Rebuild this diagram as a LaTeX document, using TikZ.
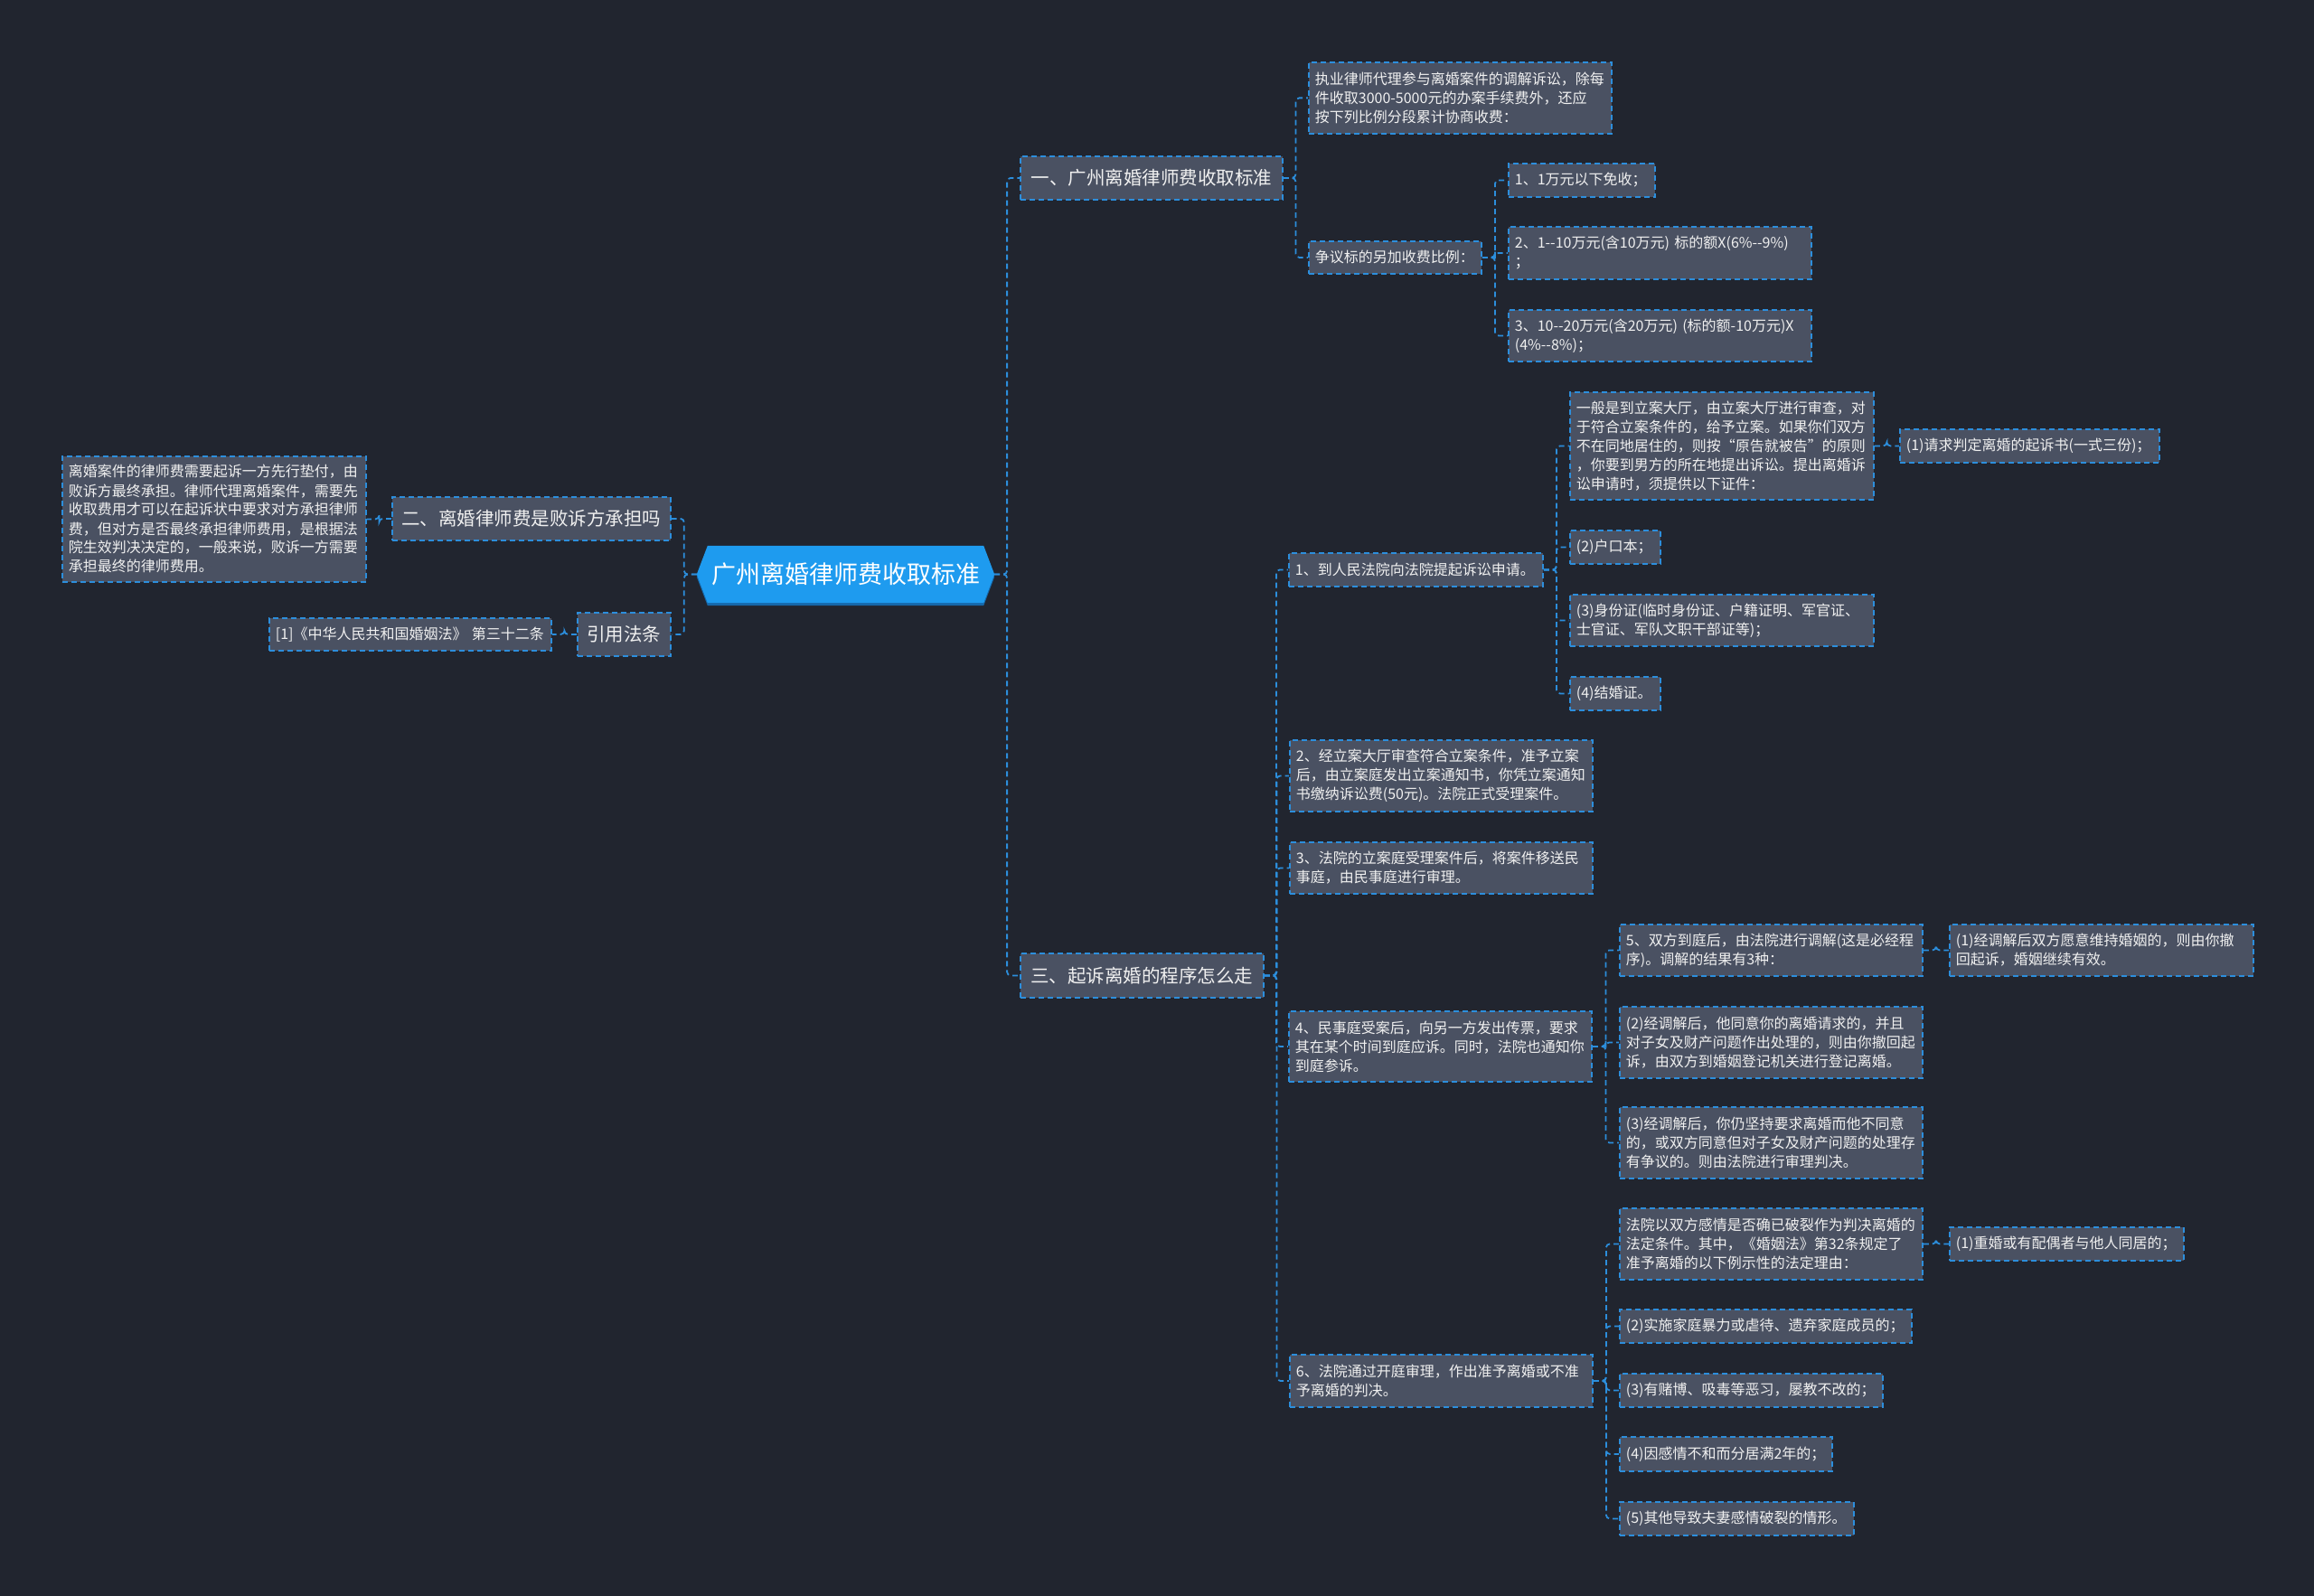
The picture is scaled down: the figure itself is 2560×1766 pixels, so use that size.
\documentclass[tikz,border=0pt]{standalone}
\usepackage{fontspec}
\setmainfont{Noto Sans CJK SC}
\usetikzlibrary{calc}
\pgfdeclarelayer{background}
\pgfsetlayers{background,main}
\definecolor{bg}{HTML}{21252F}
\definecolor{nf}{HTML}{4A5162}
\definecolor{bd}{HTML}{2C8EDC}
\definecolor{tx}{HTML}{F0F0F0}
\definecolor{rootfill}{HTML}{1E9BEF}
\definecolor{rootshadow}{HTML}{1668AA}
\exhyphenpenalty=10000
\hyphenpenalty=10000
\tikzset{
  dashline/.style={dash pattern=on 6pt off 4pt, line width=1.8pt},
  leaf/.style={draw=bd, fill=nf, dashline, text=tx, anchor=north west,
    font=\fontsize{16}{21}\selectfont, inner xsep=7pt, inner ysep=0pt, align=left},
  branch/.style={draw=bd, fill=nf, dashline, text=tx, anchor=north west,
    font=\fontsize{20.5}{24}\selectfont, inner sep=0pt},
  rootnode/.style={text=white, font=\fontsize{27}{30}\selectfont, inner sep=0pt,
    minimum width=329pt, minimum height=63pt},
  conn/.style={draw=bd, dashline, rounded corners=4pt},
}
\begin{document}
\begin{tikzpicture}[x=1pt,y=1pt]
\begin{pgfonlayer}{background}
\fill[bg] (0,0) rectangle (2560,-1766);
\end{pgfonlayer}
\useasboundingbox (0,0) rectangle (2560,-1766);

% root
\node[rootnode] (root) at (935.5,-635.5) {广州离婚律师费收取标准};
\begin{pgfonlayer}{background}
\fill[rootshadow] ([yshift=-3pt]root.west) -- ([xshift=12pt,yshift=-3pt]root.north west) -- ([xshift=-12pt,yshift=-3pt]root.north east) -- ([yshift=-3pt]root.east) -- ([xshift=-12pt,yshift=-3pt]root.south east) -- ([xshift=12pt,yshift=-3pt]root.south west) -- cycle;
\fill[rootfill] (root.west) -- ([xshift=12pt]root.north west) -- ([xshift=-12pt]root.north east) -- (root.east) -- ([xshift=-12pt]root.south east) -- ([xshift=12pt]root.south west) -- cycle;
\end{pgfonlayer}

% branches
\node[branch, minimum width=290pt, minimum height=48pt] (b1) at (1128,-172) {一、广州离婚律师费收取标准};
\node[branch, minimum width=308pt, minimum height=48pt] (b2) at (433,-549) {二、离婚律师费是败诉方承担吗};
\node[branch, minimum width=103pt, minimum height=48pt] (b4) at (638,-677) {引用法条};
\node[branch, minimum width=269pt, minimum height=49pt] (b3) at (1128,-1054) {三、起诉离婚的程序怎么走};

% branch 1 children
\node[leaf, text width=321pt, minimum height=79pt] (a) at (1447,-68) {执业律师代理参与离婚案件的调解诉讼，除每\\件收取3000-5000元的办案手续费外，还应\\按下列比例分段累计协商收费：};
\node[leaf, text width=177pt, minimum height=36pt] (bb) at (1447,-266) {争议标的另加收费比例：};
\node[leaf, text width=148pt, minimum height=37pt] (g1) at (1668,-180) {1、1万元以下免收；};
\node[leaf, text width=321pt, minimum height=58pt] (g2) at (1668,-250) {2、1-{}-10万元(含10万元)~标的额X(6\%-{}-9\%)\\；};
\node[leaf, text width=321pt, minimum height=57pt] (g3) at (1668,-342) {3、10-{}-20万元(含20万元)~(标的额-10万元)X\\(4\%-{}-8\%)；};

% left side
\node[leaf, text width=322pt, minimum height=139pt] (l1) at (68,-504) {离婚案件的律师费需要起诉一方先行垫付，由\\败诉方最终承担。律师代理离婚案件，需要先\\收取费用才可以在起诉状中要求对方承担律师\\费，但对方是否最终承担律师费用，是根据法\\院生效判决决定的，一般来说，败诉一方需要\\承担最终的律师费用。};
\node[leaf, text width=298pt, minimum height=36pt] (l2) at (297,-683) {[1]《中华人民共和国婚姻法》~第三十二条};

% branch 3 children
\node[leaf, text width=267pt, minimum height=37pt] (c1) at (1425,-611) {1、到人民法院向法院提起诉讼申请。};
\node[leaf, text width=322pt, minimum height=119pt] (c1a) at (1736,-433) {一般是到立案大厅，由立案大厅进行审查，对\\于符合立案条件的，给予立案。如果你们双方\\不在同地居住的，则按“原告就被告”的原则\\，你要到男方的所在地提出诉讼。提出离婚诉\\讼申请时，须提供以下证件：};
\node[leaf, text width=273pt, minimum height=37pt] (c1a1) at (2101,-474) {(1)请求判定离婚的起诉书(一式三份)；};
\node[leaf, text width=86pt, minimum height=37pt] (c1b) at (1736,-586) {(2)户口本；};
\node[leaf, text width=322pt, minimum height=57pt] (c1c) at (1736,-657) {(3)身份证(临时身份证、户籍证明、军官证、\\士官证、军队文职干部证等)；};
\node[leaf, text width=86pt, minimum height=37pt] (c1d) at (1736,-748) {(4)结婚证。};

\node[leaf, text width=321pt, minimum height=79pt] (c2) at (1426,-818) {2、经立案大厅审查符合立案条件，准予立案\\后，由立案庭发出立案通知书，你凭立案通知\\书缴纳诉讼费(50元)。法院正式受理案件。};
\node[leaf, text width=321pt, minimum height=57pt] (c3) at (1426,-931) {3、法院的立案庭受理案件后，将案件移送民\\事庭，由民事庭进行审理。};

\node[leaf, text width=321pt, minimum height=78pt] (c4) at (1425,-1118) {4、民事庭受案后，向另一方发出传票，要求\\其在某个时间到庭应诉。同时，法院也通知你\\到庭参诉。};
\node[leaf, text width=321pt, minimum height=57pt] (c4a) at (1791,-1022) {5、双方到庭后，由法院进行调解(这是必经程\\序)。调解的结果有3种：};
\node[leaf, text width=322pt, minimum height=57pt] (c4a1) at (2156,-1022) {(1)经调解后双方愿意维持婚姻的，则由你撤\\回起诉，婚姻继续有效。};
\node[leaf, text width=321pt, minimum height=79pt] (c4b) at (1791,-1113) {(2)经调解后，他同意你的离婚请求的，并且\\对子女及财产问题作出处理的，则由你撤回起\\诉，由双方到婚姻登记机关进行登记离婚。};
\node[leaf, text width=321pt, minimum height=79pt] (c4c) at (1791,-1224) {(3)经调解后，你仍坚持要求离婚而他不同意\\的，或双方同意但对子女及财产问题的处理存\\有争议的。则由法院进行审理判决。};

\node[leaf, text width=321pt, minimum height=58pt] (c6) at (1426,-1498) {6、法院通过开庭审理，作出准予离婚或不准\\予离婚的判决。};
\node[leaf, text width=321pt, minimum height=79pt] (c6a) at (1791,-1336) {法院以双方感情是否确已破裂作为判决离婚的\\法定条件。其中，《婚姻法》第32条规定了\\准予离婚的以下例示性的法定理由：};
\node[leaf, text width=245pt, minimum height=37pt] (c6a1) at (2156,-1357) {(1)重婚或有配偶者与他人同居的；};
\node[leaf, text width=309pt, minimum height=37pt] (c6b) at (1791,-1448) {(2)实施家庭暴力或虐待、遗弃家庭成员的；};
\node[leaf, text width=277pt, minimum height=37pt] (c6c) at (1791,-1519) {(3)有赌博、吸毒等恶习，屡教不改的；};
\node[leaf, text width=221pt, minimum height=38pt] (c6d) at (1791,-1589) {(4)因感情不和而分居满2年的；};
\node[leaf, text width=245pt, minimum height=37pt] (c6e) at (1791,-1661) {(5)其他导致夫妻感情破裂的情形。};

% connectors (right side)
\foreach \p/\c in {root/b1, root/b3, b1/a, b1/bb, bb/g1, bb/g2, bb/g3,
  b3/c1, b3/c2, b3/c3, b3/c4, b3/c6,
  c1/c1a, c1/c1b, c1/c1c, c1/c1d, c1a/c1a1,
  c4/c4a, c4/c4b, c4/c4c, c4a/c4a1,
  c6/c6a, c6/c6b, c6/c6c, c6/c6d, c6/c6e, c6a/c6a1}
  \draw[conn] (\p.east) -| ($(\p.east)!.5!(\c.west)$) |- (\c.west);
% connectors (left side)
\foreach \p/\c in {root/b2, root/b4, b2/l1, b4/l2}
  \draw[conn] (\p.west) -| ($(\p.west)!.5!(\c.east)$) |- (\c.east);
\end{tikzpicture}
\end{document}
